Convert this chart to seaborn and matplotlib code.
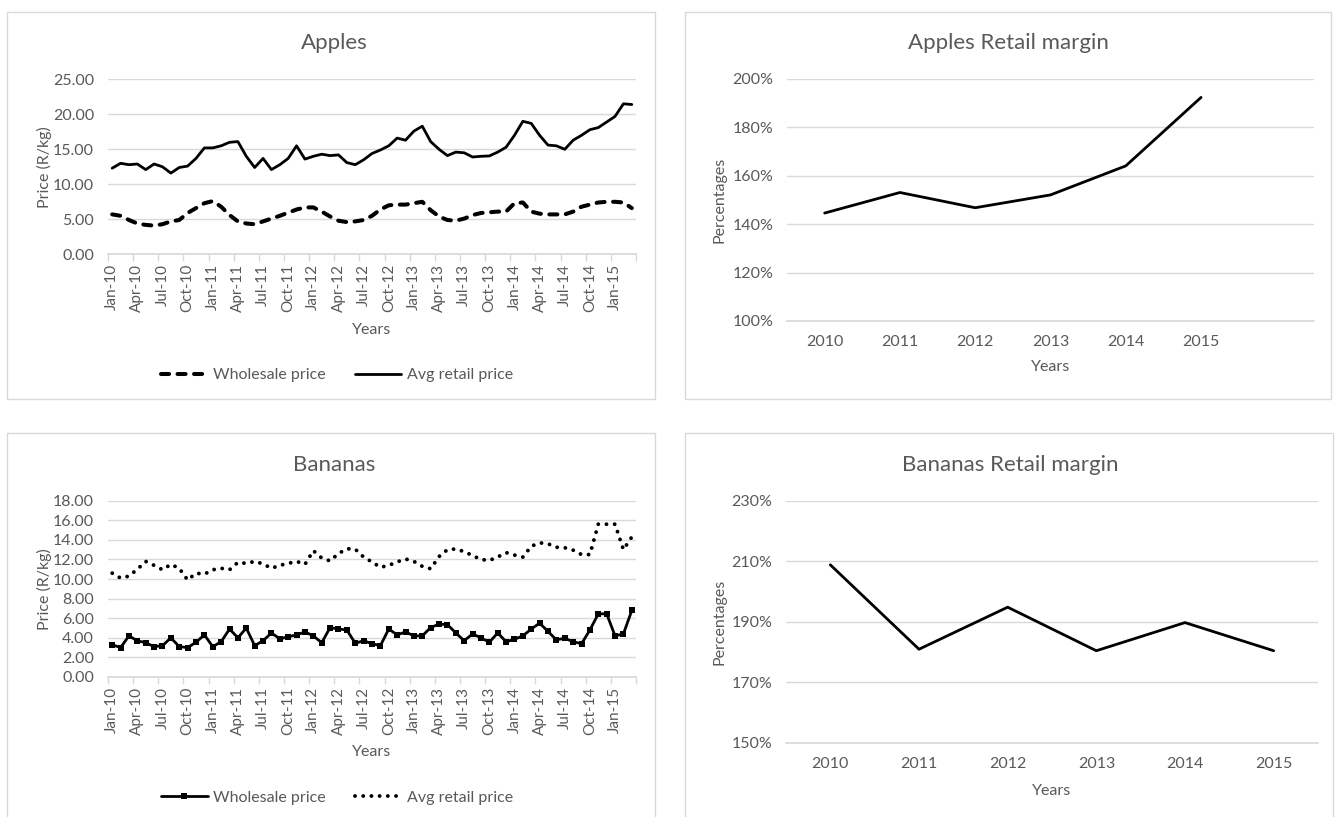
import numpy as np
import pandas as pd
import matplotlib.pyplot as plt
import seaborn as sns
from matplotlib.patches import Rectangle
from matplotlib.ticker import FuncFormatter

# Data
months = pd.date_range("2010-01-01", periods=63, freq="MS")
month_labels = list(months.strftime("%b-%y"))
month_pos = list(range(len(months)))
years = [2010, 2011, 2012, 2013, 2014, 2015]

apples_wholesale = [5.7, 5.5, 4.9, 4.4, 4.2, 4.1, 4.3, 4.7, 4.9, 5.9, 6.6, 7.3, 7.6, 6.8, 5.6, 4.7,
                    4.4, 4.3, 4.7, 5.1, 5.5, 5.95, 6.4, 6.7, 6.7, 6.1, 5.4, 4.8, 4.6, 4.7, 4.9, 5.5,
                    6.4, 7.0, 7.1, 7.1, 7.3, 7.5, 6.3, 5.4, 4.9, 4.8, 5.1, 5.6, 5.9, 6.0, 6.1, 6.1,
                    7.3, 7.4, 6.1, 5.8, 5.7, 5.7, 5.7, 6.1, 6.8, 7.1, 7.4, 7.5, 7.5, 7.4, 6.6]
apples_retail = [12.3, 13.0, 12.8, 12.9, 12.1, 12.9, 12.5, 11.6, 12.4, 12.6, 13.7, 15.2, 15.2, 15.5, 16.0, 16.1,
                 14.0, 12.4, 13.7, 12.1, 12.8, 13.7, 15.5, 13.6, 14.0, 14.3, 14.1, 14.2, 13.1, 12.8, 13.5, 14.4,
                 14.9, 15.5, 16.6, 16.3, 17.6, 18.3, 16.1, 15.0, 14.1, 14.6, 14.5, 13.9, 14.0, 14.05, 14.6, 15.3,
                 17.0, 19.0, 18.7, 17.0, 15.6, 15.5, 15.0, 16.3, 17.0, 17.8, 18.1, 18.9, 19.7, 21.5, 21.4]
bananas_wholesale = [3.3, 3.0, 4.2, 3.7, 3.5, 3.1, 3.2, 4.0, 3.1, 3.0, 3.55, 4.3, 3.1, 3.6, 4.9, 4.0,
                     5.0, 3.2, 3.7, 4.5, 3.9, 4.1, 4.3, 4.6, 4.2, 3.5, 5.05, 4.9, 4.8, 3.45, 3.7, 3.4,
                     3.2, 4.9, 4.3, 4.6, 4.2, 4.2, 5.05, 5.4, 5.35, 4.5, 3.7, 4.4, 4.0, 3.55, 4.5, 3.6,
                     3.85, 4.2, 4.9, 5.5, 4.65, 3.8, 3.95, 3.6, 3.4, 4.8, 6.45, 6.45, 4.2, 4.4, 6.8]
bananas_retail = [10.6, 10.1, 10.3, 11.0, 11.8, 11.4, 10.95, 11.5, 11.1, 9.9, 10.6, 10.5, 10.95, 11.1, 10.95, 11.7,
                  11.6, 11.8, 11.55, 11.1, 11.4, 11.6, 11.8, 11.5, 12.9, 12.15, 11.85, 12.6, 13.1, 13.05, 12.25, 11.75,
                  11.2, 11.4, 11.75, 12.05, 11.8, 11.3, 11.05, 12.3, 13.0, 13.07, 12.8, 12.4, 12.0, 11.9, 12.25, 12.7,
                  12.45, 12.25, 13.35, 13.7, 13.6, 13.25, 13.2, 12.95, 12.5, 12.5, 15.6, 15.6, 15.6, 13.0, 14.3]
apples_margin = [144.6, 153.1, 146.8, 152.1, 164.1, 192.4]
bananas_margin = [208.9, 181.0, 194.9, 180.5, 189.8, 180.5]

sns.set_theme(style="white")
plt.rcParams["font.family"] = ["Lato", "DejaVu Sans"]

TEXT = "#595959"
GRID = "#D9D9D9"
W, H = 1338, 817
FS = 11.5

fig = plt.figure(figsize=(W / 100, H / 100), dpi=100)


def rect(x0, y0, x1, y1):
    return [x0 / W, 1 - y1 / H, (x1 - x0) / W, (y1 - y0) / H]


# chart area frames
for x0, y0, x1, y1 in [(7, 12, 655, 399), (685, 12, 1331, 399),
                       (7, 433, 655, 840), (685, 433, 1333, 840)]:
    fig.patches.append(Rectangle((x0 / W, 1 - y1 / H), (x1 - x0) / W, (y1 - y0) / H,
                                 transform=fig.transFigure, fill=False,
                                 edgecolor=GRID, lw=1))


def style(ax, ymin, ymax, step, fmt):
    ax.set_ylim(ymin, ymax)
    ax.set_yticks(np.arange(ymin, ymax + step / 2, step))
    ax.yaxis.set_major_formatter(FuncFormatter(fmt))
    ax.grid(axis="y", color=GRID, lw=1)
    ax.grid(axis="x", visible=False)
    for s in ["left", "right", "top"]:
        ax.spines[s].set_visible(False)
    ax.spines["bottom"].set_color(GRID)
    ax.tick_params(axis="y", length=0, pad=10, labelsize=FS, labelcolor=TEXT)
    ax.set_axisbelow(True)


def months_axis(ax):
    ax.set_xlim(-0.5, 62.5)
    ax.set_xticks(month_pos[::3])
    ax.set_xticklabels(month_labels[::3], rotation=90)
    ax.set_xticks(np.arange(-0.5, 63, 3), minor=True)
    ax.tick_params(axis="x", which="major", length=0, pad=7, labelsize=11, labelcolor=TEXT)
    ax.tick_params(axis="x", which="minor", length=5, width=1, color=GRID, bottom=True)


def years_axis(ax, n):
    ax.set_xlim(-0.5, n - 0.5)
    ax.set_xticks(range(len(years)))
    ax.set_xticklabels([str(y) for y in years])
    ax.tick_params(axis="x", length=0, pad=10, labelsize=FS, labelcolor=TEXT)


def labels(ax, title, tx, ty, ylabel, yl_x, xl_y):
    fig.text(tx / W, 1 - ty / H, title, ha="center", va="center", fontsize=16, color=TEXT)
    ax.set_ylabel(ylabel, fontsize=FS, color=TEXT)
    bb = ax.get_position()
    ax.yaxis.set_label_coords(yl_x / W, (bb.y0 + bb.y1) / 2, transform=fig.transFigure)
    ax.set_xlabel("Years", fontsize=FS, color=TEXT)
    ax.xaxis.set_label_coords((bb.x0 + bb.x1) / 2, 1 - xl_y / H, transform=fig.transFigure)


def legend(ax, y):
    h, l = ax.get_legend_handles_labels()
    ax.legend(h, l, loc="center", bbox_to_anchor=(337 / W, 1 - y / H),
              bbox_transform=fig.transFigure, ncol=2, frameon=False,
              handlelength=2.9, handletextpad=0.35, columnspacing=1.8,
              fontsize=FS, labelcolor=TEXT, numpoints=1)


# Apples prices
ax1 = fig.add_axes(rect(108, 79.3, 636, 254.3))
sns.lineplot(x=month_pos, y=apples_wholesale, ax=ax1, color="black", lw=2.9,
             linestyle=(0, (2.0, 2.1)), dash_capstyle="round", label="Wholesale price")
sns.lineplot(x=month_pos, y=apples_retail, ax=ax1, color="black", lw=2.0,
             label="Avg retail price")
style(ax1, 0, 25, 5, lambda v, p: f"{v:.2f}")
months_axis(ax1)
labels(ax1, "Apples", 334, 43, "Price (R/kg)", 52, 323)
legend(ax1, 375)

# Apples retail margin
ax2 = fig.add_axes(rect(787, 79, 1314, 321))
sns.lineplot(x=list(range(len(years))), y=apples_margin, ax=ax2, color="black", lw=2.0)
style(ax2, 100, 200, 20, lambda v, p: f"{v:.0f}%")
years_axis(ax2, 7)
labels(ax2, "Apples Retail margin", 1008, 43, "Percentages", 726, 360)

# Bananas prices
ax3 = fig.add_axes(rect(108, 500.7, 636, 677))
sns.lineplot(x=month_pos, y=bananas_wholesale, ax=ax3, color="black", lw=2.0,
             marker="s", markersize=5, markeredgewidth=0, label="Wholesale price")
sns.lineplot(x=month_pos, y=bananas_retail, ax=ax3, color="black", lw=2.8,
             linestyle=(0, (0.01, 2.1)), dash_capstyle="round", label="Avg retail price")
style(ax3, 0, 18, 2, lambda v, p: f"{v:.2f}")
months_axis(ax3)
labels(ax3, "Bananas", 334, 465, "Price (R/kg)", 52, 745)
legend(ax3, 798)

# Bananas retail margin
ax4 = fig.add_axes(rect(786, 501, 1318, 743))
sns.lineplot(x=list(range(len(years))), y=bananas_margin, ax=ax4, color="black", lw=2.0)
style(ax4, 150, 230, 20, lambda v, p: f"{v:.0f}%")
years_axis(ax4, 6)
labels(ax4, "Bananas Retail margin", 1010, 465, "Percentages", 726, 784)

fig.savefig("out.png", dpi=100, facecolor="white")
